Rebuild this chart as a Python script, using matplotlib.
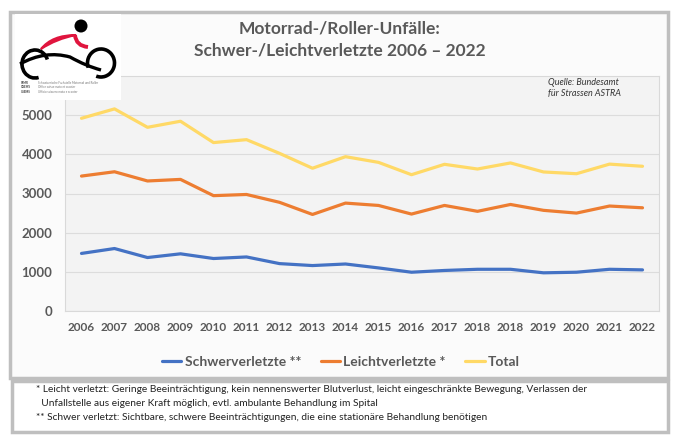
import matplotlib.pyplot as plt
from matplotlib.patches import Rectangle, Circle, Arc, PathPatch
from matplotlib.path import Path
import numpy as np

# Daten
jahre = ["2006", "2007", "2008", "2009", "2010", "2011", "2012", "2013", "2014",
         "2015", "2016", "2017", "2018", "2018", "2019", "2020", "2021", "2022"]
schwer = [1470, 1595, 1365, 1460, 1340, 1380, 1210, 1160, 1200,
          1100, 990, 1035, 1065, 1065, 975, 990, 1065, 1050]
leicht = [3445, 3555, 3320, 3360, 2945, 2975, 2775, 2465, 2755,
          2695, 2475, 2695, 2545, 2720, 2570, 2500, 2680, 2635]
total = [4920, 5160, 4690, 4845, 4300, 4375, 4025, 3645, 3940,
         3795, 3480, 3745, 3625, 3780, 3550, 3505, 3750, 3695]
y_ticks = [0, 1000, 2000, 3000, 4000, 5000]

serien = ["Schwerverletzte **", "Leichtverletzte *", "Total"]
farben = ["#4472C4", "#ED7D31", "#FFD966"]

plt.rcParams['font.family'] = ['Lato', 'DejaVu Sans']
grau = "#595959"

W, H = 680, 442
fig = plt.figure(figsize=(W / 100, H / 100), dpi=100)

# Hintergrund-Ebene in Pixelkoordinaten
bg = fig.add_axes([0, 0, 1, 1], zorder=0)
bg.set_xlim(0, W)
bg.set_ylim(H, 0)
bg.axis("off")
bg.add_patch(Rectangle((10, 12), 658, 366, fc="#fbfbfb", ec="#bfbfbf", lw=2.5))
bg.add_patch(Rectangle((12, 381), 656, 51, fc="white", ec="#bfbfbf", lw=2.5))

bg.text(340, 28, "Motorrad-/Roller-Unfälle:", ha="center", va="center",
        fontsize=12.5, fontweight="bold", color=grau)
bg.text(340, 50, "Schwer-/Leichtverletzte 2006 – 2022", ha="center", va="center",
        fontsize=12.5, fontweight="bold", color=grau)

fuss = ["* Leicht verletzt: Geringe Beeinträchtigung, kein nennenswerter Blutverlust, leicht eingeschränkte Bewegung, Verlassen der",
        "  Unfallstelle aus eigener Kraft möglich, evtl. ambulante Behandlung im Spital",
        "** Schwer verletzt: Sichtbare, schwere Beeinträchtigungen, die eine stationäre Behandlung benötigen"]
for i, z in enumerate(fuss):
    bg.text(36, 390 + i * 14, z, ha="left", va="center", fontsize=7.3, color="#222222")

# Diagramm (Skala bis 6000, oberste Linie = Rahmen)
ax = fig.add_axes([65 / W, 1 - 311 / H, 594 / W, 235 / H], zorder=1)
ax.set_facecolor("#f3f3f3")
x = np.arange(len(jahre))
for werte, name, c in zip([schwer, leicht, total], serien, farben):
    ax.plot(x, werte, color=c, lw=2.3, label=name, solid_capstyle="round")

ax.set_xlim(-0.5, len(jahre) - 0.5)
ax.set_ylim(0, 6000)
ax.set_xticks(x, jahre)
ax.set_yticks(y_ticks)
ax.grid(True, axis="y", color="#dcdcdc", lw=0.8)
ax.set_axisbelow(True)
for s in ax.spines.values():
    s.set_color("#d9d9d9")
    s.set_linewidth(0.8)
ax.tick_params(length=0, colors=grau)
ax.tick_params(axis="y", pad=9, labelsize=9.5)
ax.tick_params(axis="x", pad=8, labelsize=8.5)
for lab in ax.get_xticklabels() + ax.get_yticklabels():
    lab.set_fontweight("bold")

ax.text(548, 88, "Quelle: Bundesamt\nfür Strassen ASTRA", transform=bg.transData,
        ha="left", va="center", fontsize=6.5, style="italic", color="#333333",
        linespacing=1.4)

fig.legend(loc="center", bbox_to_anchor=(341 / W, 1 - 362 / H), ncol=3,
           frameon=False, prop={"size": 10, "weight": "bold"}, handlelength=1.4,
           columnspacing=1.4, labelcolor=grau, handletextpad=0.25)

# Logo (vereinfacht)
lg = fig.add_axes([0, 0, 1, 1], zorder=3)
lg.set_xlim(0, W)
lg.set_ylim(H, 0)
lg.axis("off")
lg.add_patch(Rectangle((15, 14), 106, 86, fc="white", ec="none"))
rot = "#e0153e"
lg.add_patch(Circle((81, 26), 6.5, fc="black", ec="none"))
swoosh = Path([(41, 49), (52, 35), (76, 35), (56, 39), (41, 49)],
              [Path.MOVETO, Path.CURVE3, Path.CURVE3, Path.CURVE3, Path.CURVE3])
lg.add_patch(PathPatch(swoosh, fc=rot, ec=rot, lw=1.5))
arm = Path([(75, 35), (76, 46), (88, 47)], [Path.MOVETO, Path.CURVE3, Path.CURVE3])
lg.add_patch(PathPatch(arm, fc="none", ec=rot, lw=2.8))
lg.add_patch(Arc((35, 64), 26, 28, theta1=75, theta2=340, color="black", lw=2.6))
lg.add_patch(Arc((101, 63), 27, 28, theta1=-200, theta2=110, color="black", lw=2.6))
strich = Path([(20, 64), (45, 50), (70, 57), (86, 66), (101, 70)],
              [Path.MOVETO, Path.CURVE3, Path.CURVE3, Path.CURVE3, Path.CURVE3])
lg.add_patch(PathPatch(strich, fc="none", ec="black", lw=2.4))
logo_txt = [("SFMR", "Schweizerische Fachstelle Motorrad und Roller"),
            ("OSEMS", "Office suisse moto et scooter"),
            ("USEMS", "Ufficio svizzero moto e scooter")]
for i, (k, t) in enumerate(logo_txt):
    lg.text(21, 83 + i * 4.4, k, fontsize=2.1, fontweight="bold", color="#333333", va="center")
    lg.text(38, 83 + i * 4.4, t, fontsize=2.1, color="#777777", va="center")

fig.savefig("out.png", dpi=100)
